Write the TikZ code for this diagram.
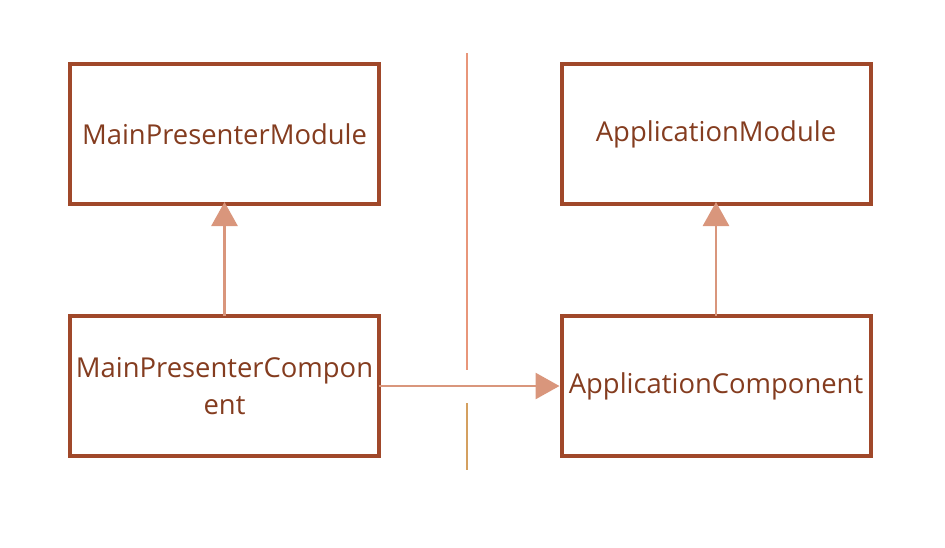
\documentclass[tikz,border=0pt]{standalone}
\usepackage{fontspec}
\setmainfont{Open Sans}
\usetikzlibrary{arrows.meta}
\definecolor{boxc}{HTML}{A0482A}
\definecolor{txtc}{HTML}{843C1F}
\definecolor{arrc}{HTML}{D9967C}
\definecolor{linea}{HTML}{E8967A}
\definecolor{lineb}{HTML}{D4A060}
\begin{document}
\begin{tikzpicture}[x=1pt,y=-1pt,
  cbox/.style={draw=boxc,line width=4pt,minimum width=309pt,minimum height=140pt,inner sep=0pt,outer sep=0pt,
    text=txtc,font=\fontsize{27.4}{37}\selectfont,align=center},
  conn/.style={draw=arrc,line width=2.8pt,-{Triangle[length=24pt,width=26pt]}}]
\useasboundingbox (0,0) rectangle (945,547);
\node[cbox] (mpm) at (224.5,134) {MainPresenterModule};
\node[cbox] (am) at (716,134) {ApplicationModule};
\node[cbox] (mpc) at (224.5,386) {MainPresenterCompon\\ent};
\node[cbox] (ac) at (716,386) {ApplicationComponent};
\coordinate (va) at (467,53);
\coordinate (vb) at (467,370);
\coordinate (vc) at (467,403);
\coordinate (vd) at (467,470);
\draw[linea,line width=2.8pt] (va) -- (vb);
\draw[lineb,line width=2.8pt] (vc) -- (vd);
\draw[conn] (mpc.north) -- ([yshift=2pt]mpm.south);
\draw[conn] (ac.north) -- ([yshift=2pt]am.south);
\draw[conn] (mpc.east) -- ([xshift=-2pt]ac.west);
\end{tikzpicture}
\end{document}
